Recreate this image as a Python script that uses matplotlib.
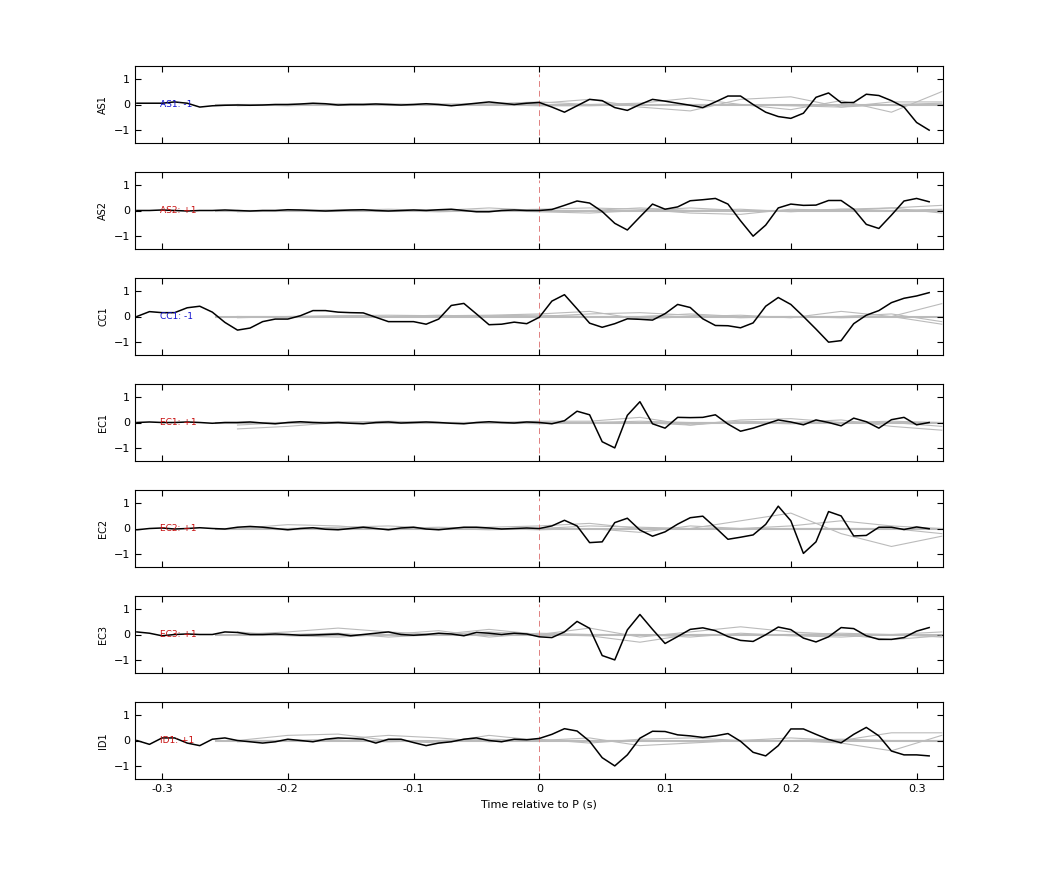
import numpy as np
import matplotlib
matplotlib.use("Agg")
import matplotlib.pyplot as plt

# station names, polarity label and label colour
stations = ["AS1", "AS2", "CC1", "EC1", "EC2", "EC3", "ID1"]
polarity = ["-1", "+1", "-1", "+1", "+1", "+1", "+1"]
pol_colors = ["#1010d0", "#c81010", "#1010d0", "#c81010", "#c81010", "#c81010", "#c81010"]

# black trace sampled every 0.01 s from -0.32 to 0.31 (left: -0.32..-0.01, right: 0..0.31)
t_black = np.round(np.arange(-0.32, 0.315, 0.01), 3)

left_AS1 = [0.05, 0.05, 0.05, 0.1, 0.05, -0.1, -0.05, -0.03, -0.02, -0.03, -0.02, 0.0, 0.0, 0.02,
            0.05, 0.03, -0.02, 0.0, 0.0, 0.02, 0.0, -0.02, 0.0, 0.03, 0.0, -0.05, 0.0, 0.05,
            0.1, 0.05, 0.0, 0.05]
right_AS1 = [0.08, -0.1, -0.3, -0.05, 0.2, 0.15, -0.12, -0.23, 0.0, 0.2, 0.13, 0.05, -0.03, -0.12,
             0.1, 0.33, 0.33, 0.0, -0.3, -0.47, -0.54, -0.34, 0.28, 0.45, 0.07, 0.08, 0.4, 0.35,
             0.15, -0.1, -0.7, -1.0]
left_AS2 = [0.0, 0.0, 0.02, 0.0, -0.02, 0.0, 0.0, 0.02, 0.0, -0.02, 0.0, 0.0, 0.03, 0.02, 0.0,
            -0.02, 0.0, 0.02, 0.03, 0.0, -0.02, 0.0, 0.02, 0.0, 0.03, 0.05, 0.0, -0.05, -0.05,
            0.0, 0.02, 0.0]
right_AS2 = [0.0, 0.04, 0.2, 0.37, 0.29, -0.04, -0.5, -0.76, -0.25, 0.25, 0.05, 0.14, 0.38, 0.42,
             0.47, 0.25, -0.4, -1.0, -0.57, 0.1, 0.25, 0.2, 0.21, 0.39, 0.39, 0.05, -0.54, -0.7,
             -0.18, 0.37, 0.47, 0.34]
left_CC1 = [0.0, 0.19, 0.15, 0.15, 0.34, 0.4, 0.17, -0.23, -0.53, -0.45, -0.2, -0.1, -0.1, 0.03,
            0.23, 0.23, 0.17, 0.15, 0.14, -0.03, -0.2, -0.2, -0.2, -0.3, -0.1, 0.43, 0.51, 0.1,
            -0.32, -0.3, -0.22, -0.28]
right_CC1 = [-0.03, 0.6, 0.85, 0.3, -0.26, -0.42, -0.28, -0.09, -0.11, -0.14, 0.11, 0.47, 0.35,
             -0.09, -0.35, -0.36, -0.44, -0.25, 0.4, 0.74, 0.47, 0.0, -0.49, -1.0, -0.94, -0.28,
             0.05, 0.23, 0.54, 0.71, 0.8, 0.93]
left_EC1 = [0.0, 0.02, 0.0, 0.0, 0.02, 0.0, -0.03, 0.0, 0.0, 0.02, -0.02, -0.05, 0.0, 0.03, 0.0,
            -0.02, 0.0, -0.03, -0.05, 0.0, 0.02, -0.02, 0.0, 0.02, 0.0, -0.03, -0.05, 0.0, 0.03,
            0.0, -0.02, 0.02]
right_EC1 = [0.0, -0.05, 0.07, 0.44, 0.3, -0.75, -0.99, 0.28, 0.81, -0.05, -0.22, 0.2, 0.19, 0.2,
             0.3, -0.06, -0.34, -0.22, -0.06, 0.1, 0.02, -0.09, 0.1, 0.0, -0.13, 0.17, 0.03,
             -0.22, 0.11, 0.2, -0.09, 0.0]
left_EC2 = [-0.05, 0.0, 0.02, -0.02, 0.0, 0.03, 0.0, -0.02, 0.05, 0.08, 0.05, 0.0, -0.05, 0.0,
            0.03, -0.03, -0.05, 0.0, 0.05, 0.0, -0.05, 0.02, 0.05, -0.02, -0.05, 0.0, 0.05,
            0.05, 0.02, -0.02, 0.0, 0.02]
right_EC2 = [0.0, 0.1, 0.32, 0.1, -0.55, -0.52, 0.23, 0.4, -0.06, -0.3, -0.13, 0.17, 0.42, 0.48,
             0.04, -0.42, -0.34, -0.25, 0.16, 0.87, 0.3, -0.97, -0.52, 0.66, 0.49, -0.29, -0.27,
             0.05, 0.05, -0.04, 0.06, -0.01]
left_EC3 = [0.1, 0.05, -0.05, 0.0, 0.02, 0.0, 0.0, 0.1, 0.08, 0.0, 0.0, 0.02, 0.0, -0.03, -0.02,
            0.0, 0.02, -0.05, 0.0, 0.05, 0.1, 0.0, -0.03, 0.0, 0.05, 0.02, -0.05, 0.08, 0.05,
            0.0, 0.05, 0.02]
right_EC3 = [-0.09, -0.12, 0.1, 0.51, 0.24, -0.82, -0.99, 0.18, 0.78, 0.2, -0.35, -0.08, 0.2,
             0.26, 0.15, -0.08, -0.23, -0.27, -0.01, 0.29, 0.19, -0.14, -0.29, -0.09, 0.27, 0.23,
             -0.05, -0.19, -0.19, -0.12, 0.13, 0.27]
left_ID1 = [0.0, -0.15, 0.1, 0.1, -0.1, -0.2, 0.05, 0.1, 0.0, -0.05, -0.1, -0.05, 0.05, 0.0,
            -0.05, 0.05, 0.1, 0.08, 0.05, -0.1, 0.05, 0.05, -0.08, -0.2, -0.1, -0.05, 0.05, 0.1,
            0.0, -0.05, 0.05, 0.03]
right_ID1 = [0.08, 0.24, 0.46, 0.37, -0.03, -0.67, -0.99, -0.56, 0.09, 0.36, 0.35, 0.22, 0.18,
             0.12, 0.18, 0.27, -0.03, -0.46, -0.6, -0.2, 0.45, 0.45, 0.24, 0.04, -0.09, 0.24, 0.51,
             0.18, -0.41, -0.56, -0.56, -0.6]

black = {
    "AS1": left_AS1 + right_AS1,
    "AS2": left_AS2 + right_AS2,
    "CC1": left_CC1 + right_CC1,
    "EC1": left_EC1 + right_EC1,
    "EC2": left_EC2 + right_EC2,
    "EC3": left_EC3 + right_EC3,
    "ID1": left_ID1 + right_ID1,
}

# grey traces sampled every 0.04 s from -0.24 to 0.32
t_grey = np.round(np.arange(-0.24, 0.325, 0.04), 3)
grey = {
    "AS1": [[0.0, -0.05, 0.0, 0.03, -0.03, 0.0, 0.05, 0.2, -0.1, -0.25, 0.2, 0.3, -0.1, 0.1, 0.1],
            [-0.05, 0.0, 0.03, 0.0, 0.0, 0.03, 0.1, 0.0, 0.05, 0.25, 0.0, -0.2, 0.15, -0.3, 0.5],
            [0.0, 0.0, -0.03, 0.0, 0.02, 0.0, -0.05, -0.05, 0.0, 0.0, 0.0, -0.05, -0.1, 0.0, 0.05]],
    "AS2": [[0.0, 0.0, 0.03, 0.0, -0.05, 0.0, 0.05, 0.1, 0.05, -0.1, -0.15, 0.05, 0.0, 0.1, 0.2],
            [-0.05, 0.0, 0.0, 0.05, 0.0, 0.1, 0.0, 0.0, 0.1, 0.0, 0.05, -0.05, 0.05, 0.1, -0.1],
            [0.0, -0.03, 0.0, 0.0, 0.03, 0.0, -0.05, -0.1, 0.0, 0.1, 0.0, 0.0, 0.05, 0.0, 0.05]],
    "CC1": [[0.0, 0.0, 0.03, 0.05, 0.03, 0.05, 0.1, 0.2, -0.1, 0.0, 0.05, -0.05, 0.2, 0.0, 0.5],
            [-0.05, 0.0, 0.0, 0.0, 0.05, 0.0, 0.0, 0.1, 0.15, 0.05, -0.05, 0.0, 0.0, 0.1, -0.2],
            [0.0, -0.03, 0.0, 0.0, 0.0, 0.03, 0.05, 0.0, 0.0, 0.1, 0.0, 0.0, -0.05, 0.0, -0.3]],
    "EC1": [[-0.25, -0.15, 0.0, 0.05, 0.0, 0.0, 0.05, 0.05, 0.2, -0.1, 0.1, 0.15, 0.0, 0.0, -0.15],
            [-0.1, 0.0, 0.03, 0.0, -0.03, 0.0, 0.0, 0.0, 0.0, -0.1, 0.05, 0.0, 0.1, -0.15, -0.3],
            [0.0, 0.0, 0.0, 0.03, 0.0, 0.0, -0.05, 0.0, 0.05, 0.0, 0.0, -0.05, 0.0, 0.05, 0.0]],
    "EC2": [[0.0, 0.15, 0.1, -0.05, 0.0, 0.05, 0.1, 0.2, 0.0, 0.0, 0.3, 0.6, -0.2, -0.7, -0.3],
            [0.0, 0.0, 0.05, 0.1, 0.0, -0.05, 0.0, 0.1, 0.05, 0.0, 0.0, 0.1, 0.3, 0.1, 0.0],
            [0.0, -0.05, 0.0, 0.0, 0.05, 0.0, -0.05, 0.0, -0.15, 0.1, 0.0, 0.0, 0.0, 0.0, -0.2]],
    "EC3": [[0.0, 0.1, 0.25, 0.1, 0.0, 0.2, 0.0, 0.25, -0.1, 0.1, 0.3, 0.1, 0.0, -0.2, -0.05],
            [0.1, -0.05, -0.1, 0.0, 0.15, -0.1, 0.05, 0.0, 0.0, -0.1, 0.05, -0.05, -0.1, 0.0, 0.1],
            [0.0, 0.0, 0.05, -0.1, 0.0, 0.1, 0.0, -0.05, -0.3, 0.0, 0.0, 0.0, 0.05, 0.0, -0.1]],
    "ID1": [[0.0, 0.2, 0.25, 0.0, -0.1, 0.2, 0.0, 0.1, -0.2, -0.1, 0.0, 0.1, 0.0, 0.3, 0.3],
            [0.0, 0.0, 0.05, 0.2, 0.1, -0.05, 0.05, -0.1, 0.05, 0.1, 0.0, 0.0, -0.1, -0.4, 0.2],
            [-0.05, 0.0, 0.0, -0.05, 0.0, 0.05, 0.0, 0.0, 0.0, -0.05, 0.0, 0.0, 0.05, 0.0, 0.0]],
}

fig = plt.figure(figsize=(10.42, 8.75), dpi=100)
W, H = 1042, 875
left, right = 135, 943
for i, st in enumerate(stations):
    top = 66 + 106 * i
    ax = fig.add_axes([left / W, 1 - (top + 77) / H, (right - left) / W, 77 / H])
    for g in grey[st]:
        ax.plot(t_grey, g, color="#bbbbbb", lw=0.8)
    ax.axhline(0, color="#bbbbbb", lw=1.5, xmin=0.1, zorder=1)
    ax.plot(t_black, black[st], color="black", lw=1.1, zorder=3)
    ax.axvline(0, color="#e08080", lw=0.7, ls=(0, (6, 4)), ymin=0.1, ymax=0.9, zorder=2)
    ax.text(-0.302, 0, st + ": " + polarity[i], color=pol_colors[i], fontsize=6.5,
            va="center", ha="left", zorder=4)
    ax.set_xlim(-0.3215, 0.321)
    ax.set_ylim(-1.5, 1.5)
    ax.set_yticks([-1, 0, 1])
    ax.set_xticks([-0.3, -0.2, -0.1, 0, 0.1, 0.2, 0.3])
    ax.tick_params(direction="in", top=True, right=True, labelsize=8, length=4)
    ax.set_ylabel(st, fontsize=7)
    if i < len(stations) - 1:
        ax.set_xticklabels([])
    else:
        ax.set_xticklabels(["-0.3", "-0.2", "-0.1", "0", "0.1", "0.2", "0.3"])
        ax.set_xlabel("Time relative to P (s)", fontsize=8)

fig.savefig("out.png", dpi=100)
